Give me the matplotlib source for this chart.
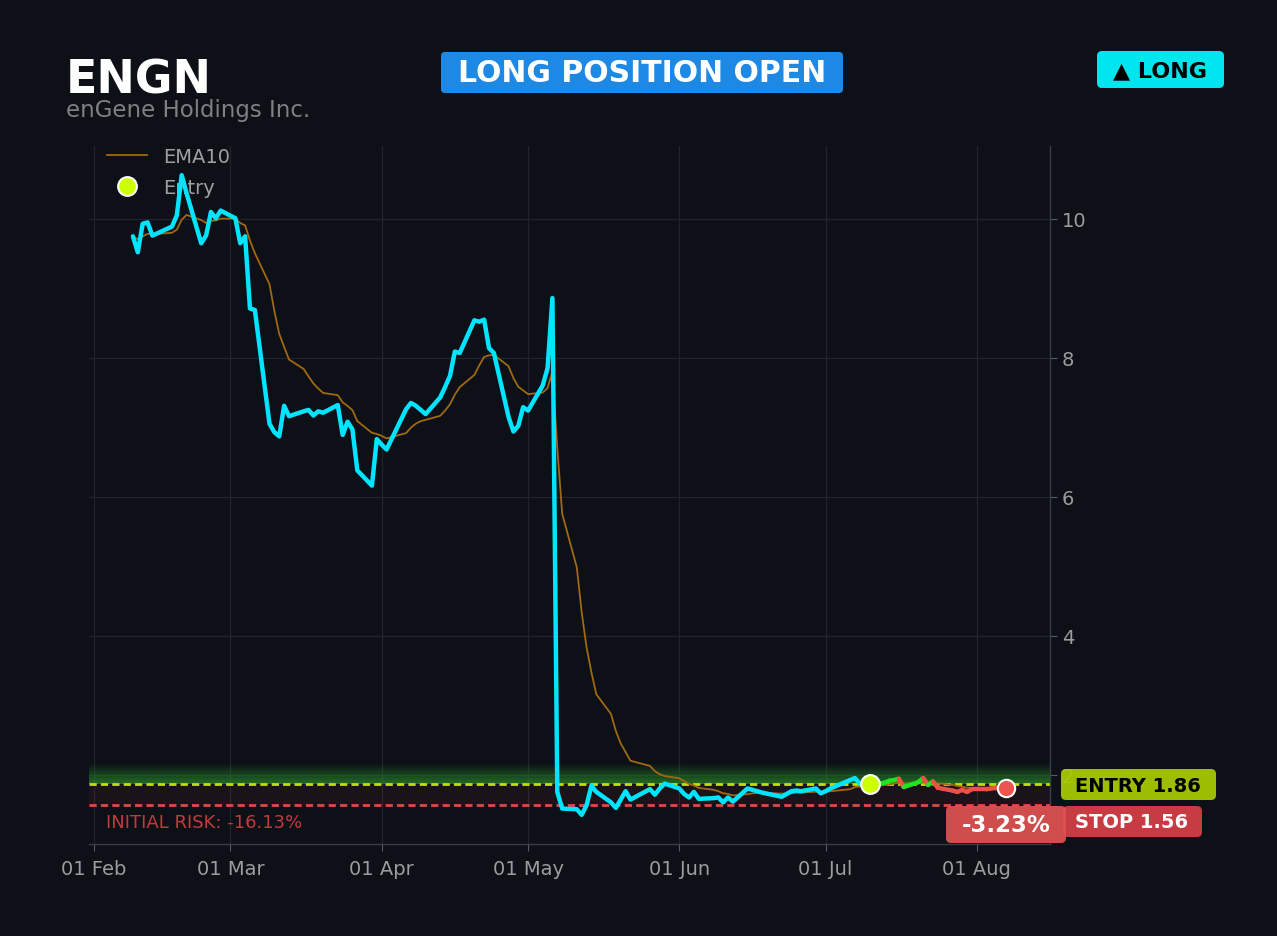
import numpy as np
import pandas as pd
import matplotlib
matplotlib.use("Agg")
import matplotlib.pyplot as plt
import matplotlib.dates as mdates
from matplotlib.patches import FancyBboxPatch
from matplotlib.transforms import IdentityTransform

# ---------------- data ----------------
ticker = "ENGN"
company = "enGene Holdings Inc."
start_date = "2026-02-09"
end_date = "2026-08-07"
market_holidays = ["2026-02-16", "2026-04-03", "2026-05-25", "2026-06-19", "2026-07-03"]

feb_close = [9.75, 9.52, 9.93, 9.95, 9.76, 9.89, 10.05, 10.63, 10.37, 9.65, 9.76, 10.10, 10.01, 10.12]
mar_close = [10.01, 9.65, 9.75, 8.71, 8.69, 7.05, 6.93, 6.87, 7.31, 7.16, 7.23, 7.25, 7.17, 7.23,
             7.21, 7.32, 6.89, 7.08, 6.97, 6.38, 6.16, 6.83]
apr_close = [6.75, 6.68, 7.26, 7.35, 7.31, 7.25, 7.19, 7.43, 7.58, 7.74, 8.09, 8.07, 8.54, 8.52,
             8.55, 8.14, 8.07, 7.15, 6.94, 7.02, 7.29]
may_close = [7.24, 7.60, 7.85, 8.86, 1.75, 1.51, 1.50, 1.42, 1.56, 1.84, 1.75, 1.60, 1.52, 1.64,
             1.76, 1.64, 1.79, 1.71, 1.80, 1.87]
jun_close = [1.80, 1.72, 1.67, 1.75, 1.65, 1.66, 1.67, 1.60, 1.67, 1.61, 1.80, 1.78, 1.76, 1.74,
             1.68, 1.72, 1.76, 1.77, 1.76, 1.80, 1.73]
jul_close = [1.76, 1.80, 1.92, 1.95, 1.87, 1.87, 1.86, 1.88, 1.91, 1.92, 1.94, 1.82, 1.89, 1.95,
             1.85, 1.90, 1.81, 1.77, 1.75, 1.78, 1.75, 1.79]
aug_close = [1.79, 1.80, 1.81, 1.81, 1.80]

entry_date = "2026-07-10"
entry_price = 1.86
stop_price = 1.56
ema_span = 10
ema_label = "EMA10"
position_text = "LONG POSITION OPEN"
side_text = "\u25B2 LONG"

# ---------------- prep ----------------
close_prices = feb_close + mar_close + apr_close + may_close + jun_close + jul_close + aug_close
dates = pd.bdate_range(start_date, end_date, freq="C", holidays=market_holidays)
n = min(len(dates), len(close_prices))
dates = dates[:n]
prices = np.array(close_prices[:n])
ema = pd.Series(prices).ewm(span=ema_span, adjust=False).mean().values
entry_idx = int(np.argmin(np.abs((dates - pd.Timestamp(entry_date)).days)))
last_price = prices[-1]
pnl_pct = (last_price / entry_price - 1) * 100
risk_pct = (stop_price / entry_price - 1) * 100

# ---------------- style ----------------
BG = "#0d1017"
GRID = "#20242c"
CYAN = "#00e5ff"
EMA_C = "#a06810"
ENTRY_C = "#c2e000"
STOP_C = "#e04848"
UP_C = "#1ee61e"
DN_C = "#ee5048"
TXT = "#9c9c9c"

W, H = 1277, 937
fig = plt.figure(figsize=(W / 100, H / 100), dpi=100, facecolor=BG)
ax = fig.add_axes([89 / W, 1 - 845 / H, (1050 - 89) / W, (845 - 147) / H], facecolor=BG)

x0 = pd.Timestamp("2026-01-31")
x1 = pd.Timestamp("2026-08-16")
y0, y1 = 1.0, 11.05

# bands
ax.axhspan(stop_price, entry_price, color=STOP_C, alpha=0.07, lw=0, zorder=1)
glow_h = 0.30
grad = np.zeros((64, 2, 4))
grad[..., 0] = 0.16
grad[..., 1] = 0.55
grad[..., 2] = 0.16
grad[..., 3] = np.linspace(0.75, 0.0, 64)[:, None]
ax.imshow(grad, extent=[mdates.date2num(x0), mdates.date2num(x1), entry_price, entry_price + glow_h],
          origin="lower", aspect="auto", zorder=1, interpolation="bilinear")

ax.axhline(entry_price, color=ENTRY_C, ls=(0, (2.6, 1.5)), lw=2, zorder=2)
ax.axhline(stop_price, color=STOP_C, ls=(0, (2.6, 1.5)), lw=2, zorder=2)

# EMA
ema_line, = ax.plot(dates, ema, color=EMA_C, lw=1.3, zorder=3, label=ema_label)

# price before entry
ax.plot(dates[:entry_idx + 1], prices[:entry_idx + 1], color=CYAN, lw=3.2, zorder=4,
        solid_joinstyle="round", solid_capstyle="round")
# price after entry, coloured by position vs entry
for i in range(entry_idx, n - 1):
    c = UP_C if prices[i + 1] >= entry_price else DN_C
    ax.plot(dates[i:i + 2], prices[i:i + 2], color=c, lw=3.2, zorder=5,
            solid_joinstyle="round", solid_capstyle="round")

entry_mk, = ax.plot([dates[entry_idx]], [prices[entry_idx]], "o", ms=13.5, mfc="#ccff00",
                    mec="white", mew=1.5, zorder=7, label="Entry", ls="none")
ax.plot([dates[-1]], [last_price], "o", ms=12.5, mfc="#ef5350", mec="white", mew=1.5, zorder=7)

ax.set_xlim(x0, x1)
ax.set_ylim(y0, y1)

# axes styling
ax.grid(True, color=GRID, lw=0.9, zorder=0)
ax.set_axisbelow(True)
for s in ["top", "left"]:
    ax.spines[s].set_visible(False)
for s in ["right", "bottom"]:
    ax.spines[s].set_color("#3a3d45")
    ax.spines[s].set_linewidth(1.0)
ax.yaxis.tick_right()
ax.yaxis.set_major_locator(plt.MultipleLocator(2))
ax.xaxis.set_major_locator(mdates.MonthLocator())
ax.xaxis.set_major_formatter(mdates.DateFormatter("%d %b"))
ax.tick_params(axis="both", colors="#555a63", labelcolor=TXT, labelsize=14, length=5)
ax.tick_params(axis="x", pad=6)

leg = ax.legend(handles=[ema_line, entry_mk], loc="upper left", frameon=False, fontsize=14,
                labelcolor="#a0a0a0", handlelength=2.1, labelspacing=0.62,
                bbox_to_anchor=(0.0, 1.024))
leg.set_zorder(3.5)

ax.text(0.018, stop_price - 0.25, f"INITIAL RISK: {risk_pct:.2f}%", transform=ax.get_yaxis_transform(),
        color="#c23b3b", fontsize=13, va="center", ha="left", zorder=6)

# ---------------- header & labels ----------------
def px_box(xa, ya, xb, yb, color, alpha=1.0, r=5, z=10):
    p = FancyBboxPatch((xa, H - yb), xb - xa, yb - ya, boxstyle=f"round,pad=0,rounding_size={r}",
                       transform=IdentityTransform(), facecolor=color, edgecolor="none",
                       alpha=alpha, zorder=z)
    fig.add_artist(p)

def px_text(x, y, s, **kw):
    fig.text(x / W, 1 - y / H, s, **kw)

px_text(66, 94, ticker, color="white", fontsize=33, fontweight="bold", va="baseline", ha="left")
px_text(66, 117, company, color="#808080", fontsize=16.5, va="baseline", ha="left")

px_box(441, 53, 843, 94, "#1e88e5", r=4)
px_text(642, 74, position_text, color="white", fontsize=21.5, fontweight="bold",
        ha="center", va="center", zorder=11)

px_box(1097, 52, 1224, 89, "#00e5ee", r=5)
px_text(1160, 71, side_text, color="black", fontsize=16, fontweight="bold",
        ha="center", va="center", zorder=11)

px_box(1061, 770, 1216, 801, "#a8cc00", alpha=0.93, r=5)
px_text(1138, 786, f"ENTRY {entry_price:.2f}", color="black", fontsize=14, fontweight="bold",
        ha="center", va="center", zorder=11)

px_box(1063, 807, 1202, 838, "#d23f46", alpha=0.95, r=5)
px_text(1132, 823, f"STOP {stop_price:.2f}", color="white", fontsize=14, fontweight="bold",
        ha="center", va="center", zorder=11)

px_box(946, 807, 1066, 844, "#e05252", alpha=0.93, r=5, z=12)
px_text(1006, 826, f"{pnl_pct:.2f}%", color="white", fontsize=16.5, fontweight="bold",
        ha="center", va="center", zorder=13)

fig.savefig("out.png", dpi=100, facecolor=BG)
